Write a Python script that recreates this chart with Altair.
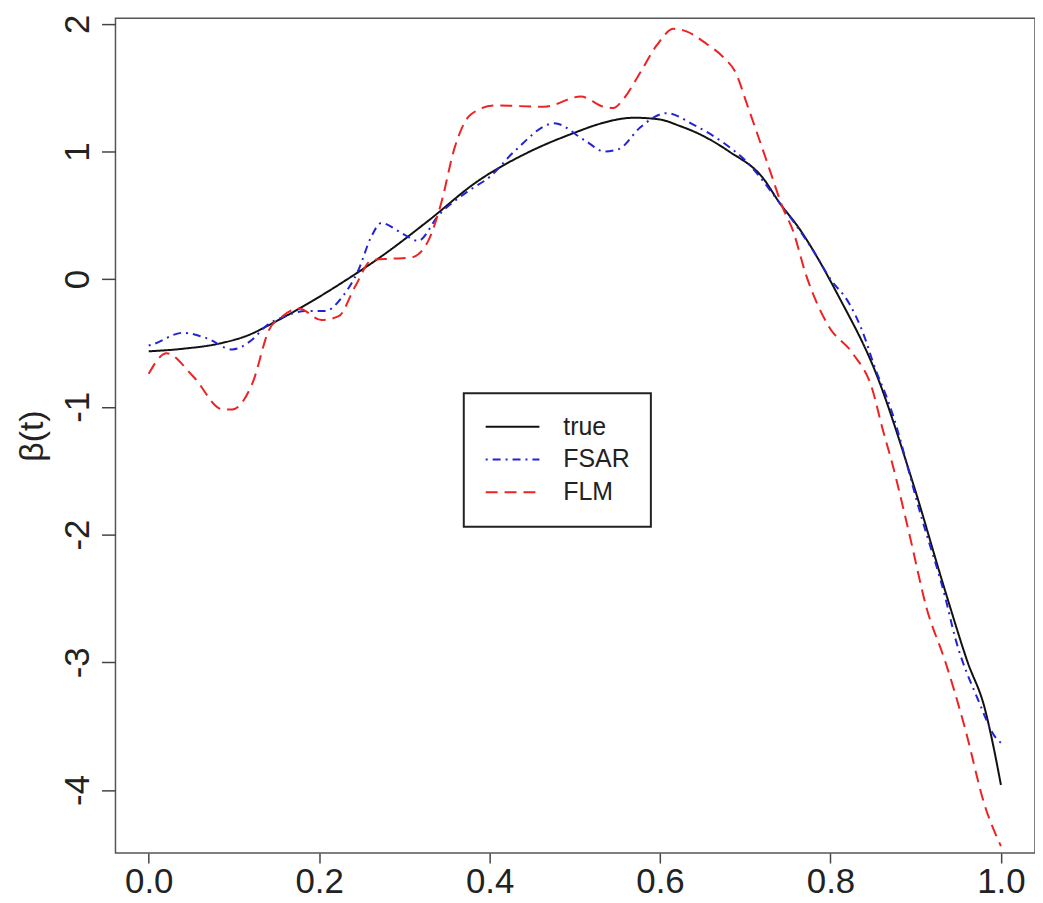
import altair as alt
import pandas as pd

# ---- data ----
true_x = [0.0, 0.04, 0.083, 0.12, 0.141, 0.184, 0.226, 0.278, 0.328, 0.386, 0.445,
          0.503, 0.526, 0.57, 0.6, 0.623, 0.645, 0.681, 0.721, 0.74, 0.763, 0.81,
          0.853, 0.896, 0.935, 0.961, 0.981, 0.99, 1.0]
true_y = [-0.565, -0.545, -0.504, -0.43, -0.36, -0.202, -0.031, 0.202, 0.457, 0.767, 0.992,
          1.155, 1.21, 1.264, 1.25, 1.2, 1.14, 1.0, 0.79, 0.6, 0.4, -0.14,
          -0.73, -1.58, -2.45, -3.0, -3.36, -3.62, -3.96]

fsar_x = [0.0, 0.005, 0.04, 0.067, 0.098, 0.122, 0.137, 0.16, 0.184, 0.207, 0.227,
          0.246, 0.261, 0.273, 0.297, 0.316, 0.34, 0.375, 0.40, 0.429, 0.476, 0.511,
          0.535, 0.552, 0.577, 0.608, 0.639, 0.674, 0.70, 0.74, 0.78, 0.80, 0.822,
          0.837, 0.853, 0.868, 0.907, 0.935, 0.946, 0.973, 0.995, 1.0]
fsar_y = [-0.52, -0.51, -0.42, -0.46, -0.55, -0.47, -0.37, -0.29, -0.25, -0.25, -0.14,
          0.07, 0.33, 0.44, 0.36, 0.30, 0.50, 0.69, 0.80, 1.0, 1.22, 1.09,
          1.0, 1.02, 1.19, 1.30, 1.21, 1.07, 0.93, 0.60, 0.22, 0.0, -0.19,
          -0.40, -0.71, -0.96, -1.87, -2.5, -2.8, -3.29, -3.60, -3.63]

flm_x = [0.0, 0.021, 0.052, 0.087, 0.098, 0.122, 0.141, 0.157, 0.176, 0.203, 0.223,
         0.242, 0.262, 0.285, 0.308, 0.328, 0.343, 0.359, 0.378, 0.406, 0.464, 0.507,
         0.534, 0.545, 0.557, 0.577, 0.596, 0.616, 0.631, 0.655, 0.674, 0.690, 0.701,
         0.713, 0.728, 0.744, 0.756, 0.771, 0.798, 0.826, 0.849, 0.861, 0.872, 0.892,
         0.913, 0.935, 0.958, 0.981, 1.0]
flm_y = [-0.74, -0.58, -0.76, -1.02, -1.02, -0.81, -0.40, -0.29, -0.23, -0.32, -0.29,
         -0.06, 0.15, 0.16, 0.17, 0.30, 0.59, 1.03, 1.29, 1.36, 1.35, 1.43,
         1.35, 1.34, 1.41, 1.62, 1.83, 1.96, 1.94, 1.84, 1.74, 1.60, 1.39,
         1.16, 0.87, 0.56, 0.38, 0.04, -0.37, -0.58, -0.86, -1.17, -1.43, -1.98,
         -2.58, -3.0, -3.52, -4.12, -4.44]

series_names = ["true", "FSAR", "FLM"]
series_colors = ["#111111", "#2323d6", "#ee2222"]
series_dashes = [[1, 0], [2, 5, 8, 5], [12, 7]]
x_ticks = [0.0, 0.2, 0.4, 0.6, 0.8, 1.0]
y_ticks = [-4, -3, -2, -1, 0, 1, 2]

rows = []
for name, xs, ys in [("true", true_x, true_y), ("FSAR", fsar_x, fsar_y), ("FLM", flm_x, flm_y)]:
    for i, (a, b) in enumerate(zip(xs, ys)):
        rows.append({"t": a, "beta": b, "series": name, "order": i})
df = pd.DataFrame(rows)

font = "Liberation Sans"

legend_opts = dict(title=None, orient="none", legendX=350, legendY=377,
                   symbolType="stroke", symbolSize=2916, clipHeight=25,
                   symbolStrokeWidth=2, labelFontSize=25, labelFont=font,
                   labelColor="#222222", labelOffset=23, rowPadding=7,
                   padding=21, strokeColor="#222222", fillColor="white")

chart = alt.Chart(df).mark_line(strokeWidth=2, interpolate="monotone").encode(
    x=alt.X("t:Q",
            scale=alt.Scale(domain=[-0.039, 1.04], nice=False, zero=False),
            axis=alt.Axis(values=x_ticks, labelExpr="format(datum.value, '.1f')",
                          tickSize=10, labelPadding=2, labelFontSize=35, labelFont=font,
                          labelColor="#222222", tickColor="#444444", tickWidth=1.5,
                          domain=False, grid=False, labelFlush=False, labelOverlap=False),
            title=None),
    y=alt.Y("beta:Q",
            scale=alt.Scale(domain=[-4.494, 2.044], nice=False, zero=False),
            axis=alt.Axis(values=y_ticks, labelExpr="'' + datum.value",
                          tickSize=14, labelPadding=13, labelAngle=270,
                          labelAlign="center", labelBaseline="alphabetic",
                          labelFontSize=35, labelFont=font, labelColor="#222222",
                          tickColor="#444444", tickWidth=1.5, domain=False, grid=False,
                          labelFlush=False, labelOverlap=False,
                          titleAngle=270, titleX=-73, titleY=419.5, titleAlign="center",
                          titleBaseline="alphabetic", titleFontSize=34, titleFont=font,
                          titleFontWeight="normal", titleColor="#222222"),
            title="β(t)"),
    color=alt.Color("series:N",
                    scale=alt.Scale(domain=series_names, range=series_colors),
                    legend=alt.Legend(**legend_opts)),
    strokeDash=alt.StrokeDash("series:N",
                              scale=alt.Scale(domain=series_names, range=series_dashes),
                              legend=alt.Legend(**legend_opts)),
    order="order:Q",
).properties(
    width=924, height=839,
    autosize=alt.AutoSizeParams(type="none"),
    padding={"left": 108, "top": 8, "right": 0, "bottom": 50},
).configure_view(
    stroke="#555555", strokeWidth=1.5
).configure_legend(
    strokeWidth=2
)

chart.save("out.html", embed_options={"renderer": "svg", "actions": False})
